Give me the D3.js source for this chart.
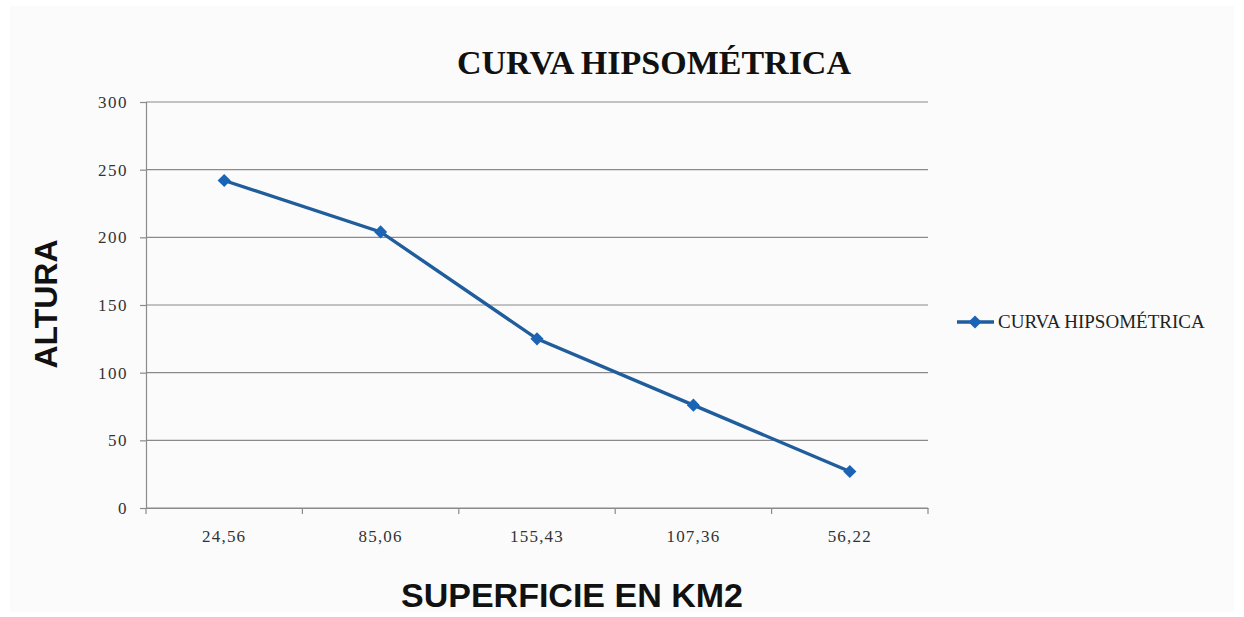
<!DOCTYPE html>
<html>
<head>
<meta charset="utf-8">
<script src="https://cdn.jsdelivr.net/npm/d3@7"></script>
<style>
  body { margin: 0; background: #fff; }
</style>
</head>
<body>
<div id="chart"></div>
<script>
// superficie (categories on x) and altura values
let categories = ["24,56", "85,06", "155,43", "107,36", "56,22"]
let altura = [242, 204, 125, 76, 27]
let yTicks = [0, 50, 100, 150, 200, 250, 300]
let seriesName = "CURVA HIPSOMÉTRICA"

let W = 1244, H = 617
let margin = {left: 146, right: 316, top: 102, bottom: 109}

let svg = d3.select("#chart")
  .append("svg")
  .attr("width", W)
  .attr("height", H)

// faint panel behind the chart
svg.append("rect")
  .attr("x", 10).attr("y", 6)
  .attr("width", W - 20).attr("height", H - 11)
  .style("fill", "#fbfbfb")

let x = d3.scaleBand()
  .domain(categories)
  .range([margin.left, W - margin.right])
  .paddingInner(0).paddingOuter(0)

let y = d3.scaleLinear()
  .domain([0, 300])
  .range([H - margin.bottom, margin.top])

// gridlines
svg.append("g")
  .selectAll("line")
  .data(yTicks)
  .enter()
  .append("line")
  .attr("x1", margin.left)
  .attr("x2", W - margin.right)
  .attr("y1", d => y(d))
  .attr("y2", d => y(d))
  .style("stroke", "#8a8a8a")
  .style("stroke-width", 1.2)

// y axis
let yAxis = svg.append("g")
  .attr("transform", `translate(${margin.left},0)`)
  .call(d3.axisLeft(y).tickValues(yTicks).tickSize(6).tickPadding(12))
yAxis.selectAll("path, line").style("stroke", "#8a8a8a").style("stroke-width", 1.2)
yAxis.selectAll("text")
  .style("font-family", "'Liberation Serif', serif")
  .style("font-size", "17px")
  .style("letter-spacing", "1.5px")
  .style("fill", "#333")

// x axis: labels centred in bands, ticks on band edges
let xAxis = svg.append("g")
  .attr("transform", `translate(0,${y(0)})`)
  .call(d3.axisBottom(x).tickSize(0).tickPadding(22))
xAxis.select("path").style("stroke", "#8a8a8a").style("stroke-width", 1.2)
xAxis.selectAll("text")
  .style("font-family", "'Liberation Serif', serif")
  .style("font-size", "17px")
  .style("letter-spacing", "1.2px")
  .style("fill", "#333")

let edges = categories.map(c => x(c)).concat([x.range()[1]])
svg.append("g")
  .selectAll("line")
  .data(edges)
  .enter()
  .append("line")
  .attr("x1", d => d).attr("x2", d => d)
  .attr("y1", y(0)).attr("y2", y(0) + 6)
  .style("stroke", "#8a8a8a")
  .style("stroke-width", 1.2)

// the line
let pts = categories.map((c, i) => ({c: c, v: altura[i]}))
let lineGen = d3.line()
  .x(d => x(d.c) + x.bandwidth() / 2)
  .y(d => y(d.v))

svg.append("path")
  .datum(pts)
  .attr("d", lineGen)
  .style("fill", "none")
  .style("stroke", "#1f5d9c")
  .style("stroke-width", 3.4)

let diamond = d3.symbol().type(d3.symbolDiamond2).size(110)
svg.append("g")
  .selectAll("path")
  .data(pts)
  .enter()
  .append("path")
  .attr("d", diamond)
  .attr("transform", d => `translate(${x(d.c) + x.bandwidth() / 2},${y(d.v)})`)
  .style("fill", "#1b63b5")

// titles
svg.append("text")
  .attr("x", 654).attr("y", 74)
  .attr("text-anchor", "middle")
  .style("font-family", "'Liberation Serif', serif")
  .style("font-weight", "bold")
  .style("font-size", "34px")
  .style("fill", "#111")
  .text("CURVA HIPSOMÉTRICA")

svg.append("text")
  .attr("transform", "translate(57,304) rotate(-90)")
  .attr("text-anchor", "middle")
  .style("font-family", "'Liberation Sans', Arial, sans-serif")
  .style("font-weight", "bold")
  .style("font-size", "32px")
  .style("fill", "#111")
  .text("ALTURA")

svg.append("text")
  .attr("x", 572).attr("y", 607)
  .attr("text-anchor", "middle")
  .style("font-family", "'Liberation Sans', Arial, sans-serif")
  .style("font-weight", "bold")
  .style("font-size", "34px")
  .style("fill", "#111")
  .text("SUPERFICIE EN KM2")

// legend
let leg = svg.append("g").attr("transform", "translate(957,322)")
leg.append("line")
  .attr("x1", 0).attr("x2", 37)
  .style("stroke", "#1f5d9c")
  .style("stroke-width", 3.4)
leg.append("path")
  .attr("d", diamond)
  .attr("transform", "translate(18,0)")
  .style("fill", "#1b63b5")
leg.append("text")
  .attr("x", 41).attr("y", 6)
  .style("font-family", "'Liberation Serif', serif")
  .style("font-size", "19px")
  .style("fill", "#222")
  .text(seriesName)
</script>
</body>
</html>
